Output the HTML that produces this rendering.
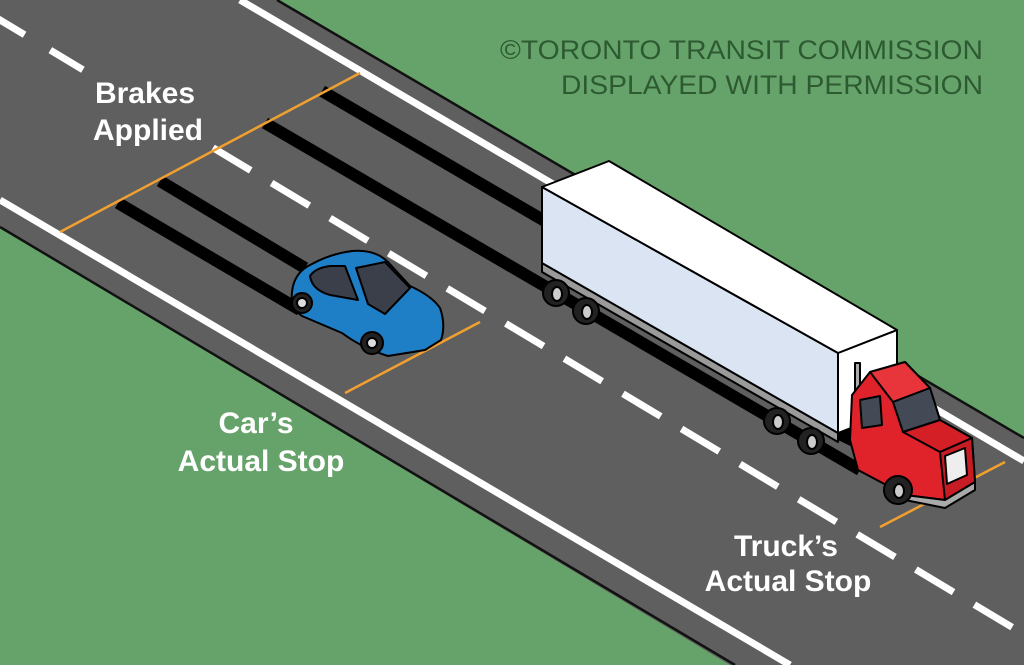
<!DOCTYPE html>
<html><head><meta charset="utf-8"><style>
html,body{margin:0;padding:0;background:#66a36a;}
svg{display:block;}
</style></head><body>
<svg width="1024" height="665" viewBox="0 0 1024 665" xmlns="http://www.w3.org/2000/svg" font-family="Liberation Sans, Arial, sans-serif">
<rect width="1024" height="665" fill="#66a36a"/>
<!-- road -->
<polygon points="0,0 277,0 1024,438 1024,665 730,665 0,227" fill="#5f5f5f"/>
<line x1="277" y1="0" x2="1024" y2="438" stroke="#111" stroke-width="2.5"/>
<line x1="0" y1="227" x2="735" y2="665" stroke="#111" stroke-width="2.5"/>
<!-- edge lines -->
<line x1="240" y1="0" x2="1024" y2="461" stroke="#fff" stroke-width="7"/>
<line x1="0" y1="200" x2="790" y2="665" stroke="#fff" stroke-width="7"/>
<!-- center dashes -->
<line x1="-8" y1="15.2" x2="85" y2="71" stroke="#fff" stroke-width="7" stroke-dasharray="38 30"/>
<line x1="213" y1="147.8" x2="1040" y2="644" stroke="#fff" stroke-width="7" stroke-dasharray="44 24.3"/>
<!-- skid marks -->
<g stroke="#000" stroke-width="12" stroke-linecap="butt">
<line x1="118" y1="203" x2="300" y2="310"/>
<line x1="160" y1="181" x2="305" y2="268"/>
<line x1="265" y1="123" x2="860" y2="470"/>
<line x1="322" y1="91" x2="860" y2="405"/>
</g>
<!-- orange lines -->
<g stroke="#f0a030" stroke-width="2.5">
<line x1="60" y1="232" x2="360" y2="73"/>
<line x1="345" y1="393" x2="480" y2="322"/>
<line x1="880" y1="527" x2="1005" y2="462"/>
</g>
<!-- truck shadow -->
<polygon points="542,268 838,440 900,470 900,420 600,250" fill="#000"/>
<!-- trailer -->
<g stroke="#000" stroke-width="2" stroke-linejoin="round">
<polygon points="542,263 838,433 838,442 542,272" fill="#9a9a9a"/>
<circle cx="556" cy="293" r="13" fill="#222"/><ellipse cx="557" cy="294" rx="5" ry="7" fill="#ccc"/>
<circle cx="586" cy="311" r="13" fill="#222"/><ellipse cx="587" cy="312" rx="5" ry="7" fill="#ccc"/>
<circle cx="777" cy="421" r="13" fill="#222"/><ellipse cx="778" cy="422" rx="5" ry="7" fill="#ccc"/>
<circle cx="811" cy="441" r="13" fill="#222"/><ellipse cx="812" cy="442" rx="5" ry="7" fill="#ccc"/>
<polygon points="542,187 838,353 838,433 542,263" fill="#dbe4f3"/>
<polygon points="838,353 897,330 897,410 838,433" fill="#fff"/>
<polygon points="542,187 609,161 897,330 838,353" fill="#fff"/>
</g>
<!-- cab -->
<g stroke="#000" stroke-width="2" stroke-linejoin="round">
<rect x="855" y="363" width="5" height="38" fill="#aaa"/>
<polygon points="852,395 870,372 905,362 930,388 940,420 972,438 975,482 945,500 905,495 858,470 850,440" fill="#e0222a"/>
<polygon points="870,372 905,362 930,388 893,402" fill="#e8353b"/>
<polygon points="893,402 930,388 940,420 903,432" fill="#444a55"/>
<polygon points="860,400 880,396 882,425 862,428" fill="#444a55"/>
<polygon points="903,432 940,420 972,438 940,452" fill="#d41f27"/>
<polygon points="940,452 972,438 975,482 945,500" fill="#c81c24"/>
<polygon points="945,456 965,448 967,475 947,484" fill="#eee"/>
<polygon points="905,495 945,500 975,482 975,490 945,508 905,500" fill="#aaa"/>
<circle cx="898" cy="490" r="14" fill="#222"/><ellipse cx="899" cy="491" rx="5" ry="7" fill="#ccc"/>
</g>
<!-- car -->
<g stroke="#000" stroke-width="2" stroke-linejoin="round">
<path d="M292,292 Q294,272 312,264 Q330,254 352,251 Q375,249 388,262 L410,286 Q432,296 440,308 Q446,325 441,340 L425,350 L388,356 Q362,348 342,333 L302,316 Q290,308 292,292 Z" fill="#1e7fc7"/>
<path d="M310,276 Q315,268 330,266 L345,266 L358,300 L330,295 Q312,290 310,276 Z" fill="#3a3f4a"/>
<path d="M356,268 L385,262 L410,288 L385,314 L368,304 Z" fill="#3a3f4a"/>
<circle cx="302" cy="303" r="10" fill="#222"/><circle cx="302" cy="303" r="5" fill="#ddd"/>
<circle cx="372" cy="343" r="11" fill="#222"/><circle cx="372" cy="343" r="5" fill="#ddd"/>
</g>
<!-- labels -->
<g fill="#fff" font-weight="bold" font-size="30" text-anchor="middle">
<text x="145" y="103">Brakes</text>
<text x="148" y="140">Applied</text>
<text x="256" y="433">Car’s</text>
<text x="261" y="471">Actual Stop</text>
<text x="786" y="556">Truck’s</text>
<text x="788" y="591">Actual Stop</text>
</g>
<g fill="#2e5a32" font-size="27">
<text x="500" y="59" textLength="483" lengthAdjust="spacingAndGlyphs">©TORONTO TRANSIT COMMISSION</text>
<text x="561" y="94" textLength="422" lengthAdjust="spacingAndGlyphs">DISPLAYED WITH PERMISSION</text>
</g>
</svg>
</body></html>
